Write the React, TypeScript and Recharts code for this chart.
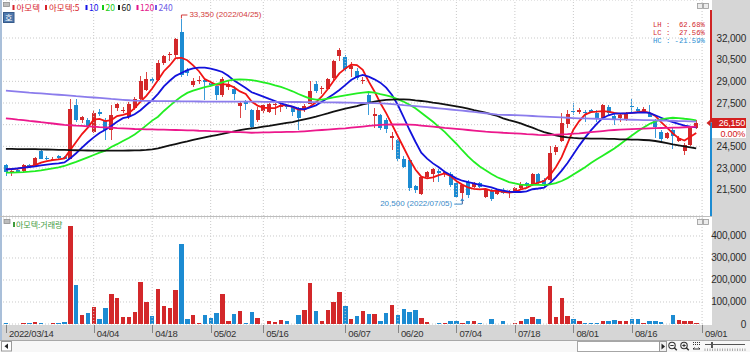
import React from 'react';
import {
  ComposedChart,
  Bar,
  Line,
  XAxis,
  YAxis,
  CartesianGrid,
  ReferenceLine,
  ReferenceDot,
} from 'recharts';

// ---------- categories ----------
const dates: string[] = [
  '03/14', '03/15', '03/16', '03/17', '03/18', '03/21', '03/22', '03/23', '03/24', '03/25',
  '03/28', '03/29', '03/30', '03/31', '04/01', '04/04', '04/05', '04/06', '04/07', '04/08',
  '04/11', '04/12', '04/13', '04/14', '04/15', '04/18', '04/19', '04/20', '04/21', '04/22',
  '04/25', '04/26', '04/27', '04/28', '04/29', '05/02', '05/03', '05/04', '05/06', '05/09',
  '05/10', '05/11', '05/12', '05/13', '05/16', '05/17', '05/18', '05/19', '05/20', '05/23',
  '05/24', '05/25', '05/26', '05/27', '05/30', '05/31', '06/02', '06/03', '06/07', '06/08',
  '06/09', '06/10', '06/13', '06/14', '06/15', '06/16', '06/17', '06/20', '06/21', '06/22',
  '06/23', '06/24', '06/27', '06/28', '06/29', '06/30', '07/01', '07/04', '07/05', '07/06',
  '07/07', '07/08', '07/11', '07/12', '07/13', '07/14', '07/15', '07/18', '07/19', '07/20',
  '07/21', '07/22', '07/25', '07/26', '07/27', '07/28', '07/29', '08/01', '08/02', '08/03',
  '08/04', '08/05', '08/08', '08/09', '08/10', '08/11', '08/12', '08/16', '08/17', '08/18',
  '08/19', '08/22', '08/23', '08/24', '08/25', '08/26', '08/29', '08/30', '08/31', '09/01',
];

// ---------- price series ----------
const opens = [
  23200, 22750, 22850, 22800, 23200, 23100, 24150, 23700, 23600, 23800,
  23750, 23650, 27350, 26300, 26300, 25500, 26900, 26300, 25600, 27150,
  27000, 26500, 27150, 27800, 28400, 29150, 29100, 30300, 30800, 30850,
  32450, 29800, 28750, 29000, 29100, 28900, 28650, 28050, 28600, 28500,
  27300, 27600, 27000, 26300, 26950, 26900, 27350, 27250, 27350, 27200,
  27150, 27000, 27450, 28850, 28450, 28450, 29200, 30750, 30700, 29850,
  29750, 29000, 28050, 26600, 26650, 26350, 25100, 24950, 23650, 23550,
  21750, 21200, 22400, 22600, 22800, 22600, 22600, 21950, 21250, 22050,
  21700, 21950, 21000, 21500, 21200, 21500, 21300, 21350, 21600, 21950,
  21800, 22600, 22150, 22150, 24100, 24850, 26050, 26950, 26850, 26900,
  27000, 26800, 26450, 27200, 26600, 26450, 26300, 27300, 27100, 26950,
  26800, 26350, 25500, 25100, 25650, 24900, 24200, 24600, 25800,
];
const highs = [
  23300, 22900, 22950, 23300, 23300, 23750, 24300, 23800, 23750, 23900,
  23850, 27800, 27800, 26600, 26450, 27000, 27100, 26450, 27350, 27500,
  27250, 27600, 27900, 29400, 29650, 29300, 30500, 30800, 31000, 32000,
  33350, 29950, 29200, 29400, 29200, 29000, 28700, 29300, 29000, 28700,
  27600, 27700, 27100, 27200, 27400, 27500, 27500, 27500, 27450, 27300,
  27200, 27400, 29000, 29000, 28700, 29200, 30500, 31300, 30800, 30350,
  29900, 29300, 28300, 27150, 26750, 26450, 25500, 25000, 23800, 23600,
  21800, 22450, 22800, 23000, 22900, 22800, 22750, 22050, 21900, 22150,
  22000, 22050, 21600, 21550, 21550, 21600, 21450, 21700, 22000, 22050,
  22650, 22650, 22300, 24500, 24600, 26800, 27000, 27500, 27150, 27050,
  27100, 27000, 27400, 27350, 26800, 26800, 26900, 27800, 27200, 27200,
  27350, 26400, 25600, 25500, 25750, 25200, 24700, 25800, 26300,
];
const lows = [
  22450, 22450, 22700, 22750, 23050, 23050, 23600, 23550, 23500, 23650,
  23600, 23600, 26200, 26150, 25700, 25400, 26600, 24950, 24950, 26950,
  26800, 26400, 27000, 27700, 28300, 28900, 29000, 30100, 30400, 30700,
  29300, 29400, 28600, 28800, 27700, 28600, 27700, 27950, 28400, 27700,
  26450, 27000, 25700, 26200, 26800, 26800, 26700, 26900, 27100, 26600,
  25650, 26900, 27400, 28200, 28150, 28400, 29100, 30400, 29700, 29300,
  29100, 28800, 26650, 25750, 25600, 25400, 24250, 23500, 23000, 21400,
  21300, 21150, 22300, 22000, 22000, 22400, 21700, 20900, 20500, 20950,
  21600, 21600, 20900, 20750, 21100, 21200, 20950, 21250, 21550, 21700,
  21750, 21850, 21700, 22100, 23900, 24800, 25800, 26650, 26750, 26200,
  26800, 26200, 26300, 26650, 26000, 26200, 26250, 26800, 26800, 26850,
  26500, 25050, 24900, 25000, 24350, 24800, 23900, 24500, 25700,
];
const closes = [
  22750, 22800, 22750, 23200, 23100, 23700, 23650, 23600, 23650, 23700,
  23650, 27100, 26300, 26500, 25850, 26800, 26750, 25650, 26650, 27400,
  27050, 27400, 27750, 29000, 29150, 29050, 30300, 30750, 30900, 31900,
  29450, 29600, 29050, 29100, 28950, 28750, 28050, 29150, 28800, 28150,
  27500, 27450, 25850, 27050, 27350, 27450, 27400, 27350, 27200, 26900,
  26450, 27300, 28350, 28300, 28550, 29150, 30400, 31150, 29850, 30050,
  29200, 29100, 27600, 26750, 25750, 25700, 25200, 23650, 23100, 21600,
  21450, 22400, 22700, 22900, 22650, 22700, 21850, 21000, 21800, 21150,
  21900, 21700, 21450, 20850, 21450, 21300, 21350, 21650, 21900, 21800,
  22600, 21950, 21900, 24050, 24450, 26100, 26750, 26850, 27050, 26800,
  26900, 26450, 27350, 26800, 26350, 26650, 26800, 27200, 26950, 27100,
  26550, 25850, 25000, 25400, 25250, 25050, 24600, 25750, 26150,
];
const volumes = [
  6000, 2000, 2000, 3000, 3000, 8000, 3000, 2000, 3000, 6000,
  8000, 445000, 177000, 42000, 52000, 77000, 21000, 71000, 138000, 117000,
  30000, 30000, 55000, 191000, 101000, 36000, 159000, 80000, 71000, 153000,
  365000, 24000, 42000, 6000, 42000, 27000, 52000, 135000, 15000, 45000,
  59000, 3000, 55000, 27000, 2000, 14000, 9000, 18000, 14000, 2000,
  42000, 64000, 186000, 59000, 14000, 64000, 101000, 145000, 82000, 21000,
  36000, 59000, 45000, 45000, 14000, 50000, 86000, 42000, 67000, 56000,
  64000, 27000, 9000, 2000, 6000, 6000, 15000, 15000, 3000, 12000,
  12000, 6000, 2000, 21000, 2000, 15000, 2000, 3000, 15000, 21000,
  33000, 21000, 2000, 174000, 33000, 120000, 36000, 24000, 12000, 6000,
  3000, 3000, 15000, 15000, 18000, 12000, 12000, 21000, 24000, 6000,
  12000, 12000, 9000, 2000, 39000, 18000, 15000, 15000, 6000,
];

// ---------- moving averages ----------
const ma5 = [
  22900, 22930, 22950, 23020, 23090, 23200, 23370, 23480, 23550, 23600,
  23670, 24250, 24800, 25350, 25800, 26350, 26400, 26250, 26320, 26600,
  26680, 26800, 27150, 27600, 28000, 28500, 29100, 29700, 30100, 30600,
  30630, 30460, 30100, 29700, 29150, 28950, 28750, 28800, 28770, 28580,
  28300, 28120, 27600, 27320, 27180, 27150, 27150, 27330, 27330, 27230,
  27040, 27050, 27260, 27550, 27950, 28450, 29020, 29550, 29880, 30150,
  30130, 29800, 29000, 28300, 27500, 26800, 26000, 25200, 24400, 23600,
  22900, 22400, 22280, 22350, 22500, 22620, 22450, 22100, 21850, 21650,
  21560, 21520, 21550, 21410, 21420, 21340, 21290, 21340, 21520, 21630,
  21840, 21990, 22100, 22500, 23050, 23750, 24700, 25650, 26250, 26700,
  26870, 26900, 26940, 26900, 26820, 26750, 26780, 26820, 26870, 26920,
  26820, 26600, 26170, 25800, 25400, 25060, 24900, 25160, 25430,
];
const ma10 = [
  22900, 22930, 22980, 23020, 23070, 23110, 23180, 23230, 23280, 23320,
  23390, 23670, 24020, 24410, 24780, 25120, 25420, 25650, 25910, 26200,
  26450, 26540, 26720, 27000, 27360, 27700, 28130, 28650, 29040, 29380,
  29580, 29780, 29900, 29950, 29950, 29880, 29780, 29650, 29380, 29050,
  28800, 28540, 28240, 28100, 27940, 27780, 27640, 27480, 27360, 27250,
  27110, 27060, 27200, 27340, 27590, 27840, 28100, 28400, 28740, 29090,
  29320, 29440, 29320, 29140, 28910, 28560, 28050, 27360, 26510, 25630,
  24820, 24060, 23650, 23320, 23050, 22740, 22510, 22280, 22120, 22030,
  21940, 21840, 21750, 21660, 21520, 21430, 21360, 21340, 21340, 21380,
  21530, 21580, 21640, 21950, 22350, 22820, 23350, 23950, 24550, 25100,
  25600, 26050, 26450, 26650, 26760, 26780, 26780, 26810, 26830, 26850,
  26810, 26650, 26480, 26320, 26180, 26050, 25930, 25860, 25810,
];
const ma20 = [
  22680, 22680, 22700, 22720, 22750, 22790, 22840, 22910, 22980, 23040,
  23140, 23280, 23420, 23580, 23740, 23900, 24060, 24200, 24450, 24650,
  24870, 25080, 25320, 25620, 25950, 26280, 26550, 26950, 27300, 27650,
  27950, 28200, 28350, 28480, 28600, 28680, 28810, 28930, 29050, 29120,
  29140, 29120, 29090, 29020, 28930, 28840, 28720, 28610, 28470, 28310,
  28120, 27960, 27800, 27730, 27730, 27800, 27890, 27960, 28030, 28100,
  28170, 28220, 28260, 28220, 28120, 28030, 27920, 27750, 27590, 27380,
  27130, 26830, 26510, 26200, 25850, 25500, 25080, 24680, 24230, 23800,
  23430, 23100, 22840, 22590, 22360, 22200, 22020, 21930, 21850, 21820,
  21830, 21830, 21820, 21870, 21950, 22100, 22300, 22550, 22800, 23050,
  23350, 23600, 23850, 24100, 24350, 24650, 24950, 25250, 25550, 25800,
  26050, 26230, 26370, 26440, 26480, 26460, 26410, 26370, 26300,
];
const ma60 = [
  24320, 24320, 24310, 24310, 24300, 24300, 24290, 24280, 24270, 24260,
  24250, 24240, 24230, 24220, 24210, 24200, 24200, 24200, 24200, 24200,
  24200, 24210, 24220, 24230, 24250, 24290, 24360, 24470, 24570, 24660,
  24750, 24840, 24940, 25030, 25120, 25200, 25280, 25360, 25450, 25540,
  25620, 25690, 25750, 25790, 25860, 25910, 25980, 26050, 26120, 26180,
  26280, 26370, 26460, 26550, 26670, 26780, 26900, 27010, 27110, 27200,
  27290, 27410, 27500, 27590, 27660, 27710, 27730, 27750, 27750, 27730,
  27680, 27640, 27590, 27520, 27480, 27410, 27340, 27270, 27200, 27110,
  27010, 26920, 26830, 26710, 26600, 26440, 26320, 26210, 26090, 25930,
  25790, 25630, 25490, 25380, 25260, 25170, 25120, 25080, 25050, 25050,
  25030, 25030, 25030, 25010, 25010, 24980, 24980, 24960, 24960, 24940,
  24920, 24870, 24800, 24730, 24640, 24570, 24500, 24430, 24360,
];
const ma120 = [
  26440, 26400, 26350, 26310, 26260, 26220, 26170, 26130, 26080, 26030,
  25980, 25960, 25930, 25910, 25880, 25860, 25830, 25810, 25790, 25760,
  25740, 25720, 25700, 25690, 25680, 25670, 25660, 25650, 25640, 25630,
  25620, 25610, 25600, 25580, 25570, 25550, 25540, 25520, 25510, 25490,
  25480, 25460, 25440, 25450, 25460, 25470, 25480, 25490, 25500, 25505,
  25515, 25540, 25570, 25600, 25630, 25660, 25690, 25720, 25750, 25790,
  25830, 25870, 25910, 25950, 25980, 26000, 26010, 26020, 26010, 26000,
  25980, 25940, 25900, 25860, 25820, 25780, 25750, 25710, 25670, 25630,
  25590, 25550, 25515, 25490, 25470, 25440, 25420, 25400, 25380, 25350,
  25330, 25300, 25280, 25290, 25310, 25330, 25350, 25380, 25400, 25440,
  25480, 25520, 25560, 25600, 25630, 25650, 25670, 25690, 25710, 25730,
  25750, 25760, 25770, 25780, 25790, 25800, 25820, 25840, 25860,
];
const ma240 = [
  28350, 28320, 28290, 28260, 28220, 28190, 28160, 28130, 28100, 28070,
  28040, 28010, 27970, 27940, 27910, 27880, 27850, 27820, 27780, 27750,
  27720, 27690, 27660, 27650, 27645, 27640, 27635, 27630, 27625, 27620,
  27615, 27610, 27610, 27605, 27600, 27600, 27600, 27595, 27595, 27590,
  27590, 27590, 27590, 27590, 27585, 27585, 27580, 27580, 27575, 27570,
  27570, 27565, 27560, 27555, 27550, 27545, 27540, 27535, 27530, 27520,
  27510, 27500, 27495, 27490, 27480, 27450, 27420, 27390, 27350, 27320,
  27290, 27250, 27210, 27170, 27130, 27090, 27050, 27010, 26970, 26930,
  26880, 26840, 26790, 26740, 26690, 26680, 26670, 26660, 26640, 26620,
  26600, 26580, 26560, 26540, 26520, 26500, 26480, 26460, 26440, 26430,
  26420, 26410, 26390, 26380, 26370, 26360, 26350, 26340, 26330, 26320,
  26310, 26300, 26290, 26280, 26270, 26250, 26240, 26230, 26210,
];

// ---------- ticks / labels ----------
const priceTicks = [21500, 23000, 24500, 26000, 27500, 29000, 30500, 32000];
const volumeTicks = [0, 100000, 200000, 300000, 400000];
const labelDates = ['03/14', '04/04', '04/18', '05/02', '05/16', '06/07', '06/20', '07/04', '07/18', '08/01', '08/16', '09/01'];
const labelTexts = ['2022/03/14', '04/04', '04/18', '05/02', '05/16', '06/07', '06/20', '07/04', '07/18', '08/01', '08/16', '09/01'];
const gridDates = labelDates.slice(1);
const highMark = { date: '04/25', value: 33350, text: '33,350 (2022/04/25)' };
const lowMark = { date: '07/05', value: 20500, text: '20,500 (2022/07/05)' };
const ratioTexts = ['LH :  62.68%', 'LC :  27.56%', 'HC : -21.59%'];
const changeText = '0.00%';

const legendItems = [
  { label: '아모텍', color: '#d8232b', mx: 12.5, tx: 16.5 },
  { label: '아모텍:5', color: '#d8232b', mx: 45, tx: 49 },
  { label: '10', color: '#1515e8', mx: 85.5, tx: 89 },
  { label: '20', color: '#16cc16', mx: 102, tx: 105.5 },
  { label: '60', color: '#111111', mx: 118, tx: 121.5 },
  { label: '120', color: '#e3168b', mx: 136.5, tx: 140 },
  { label: '240', color: '#6d5ce6', mx: 155, tx: 158.5 },
];

const maSeries = [
  { key: 'ma5', color: '#f01414' },
  { key: 'ma10', color: '#1212dc' },
  { key: 'ma20', color: '#22ee22' },
  { key: 'ma60', color: '#111111' },
  { key: 'ma120', color: '#ec188c' },
  { key: 'ma240', color: '#8b7cec' },
];

const RED = '#d3282a';
const BLUE = '#1c8bd2';
const RED_WICK = '#dc4545';
const BLUE_WICK = '#3c9bda';
const GRID = '#c9c9c9';
const PANEL = '#d6d6d6';
const NUM_FONT = '"Liberation Sans", Arial, sans-serif';
const MONO_FONT = '"Liberation Mono", "DejaVu Sans Mono", monospace';
const KR_FONT = '"Noto Sans CJK KR", "Noto Sans", sans-serif';

const data = dates.map((date, i) => ({
  date,
  open: i < opens.length ? opens[i] : null,
  high: i < highs.length ? highs[i] : null,
  low: i < lows.length ? lows[i] : null,
  close: i < closes.length ? closes[i] : null,
  volume: i < volumes.length ? volumes[i] : null,
  ma5: i < ma5.length ? ma5[i] : null,
  ma10: i < ma10.length ? ma10[i] : null,
  ma20: i < ma20.length ? ma20[i] : null,
  ma60: i < ma60.length ? ma60[i] : null,
  ma120: i < ma120.length ? ma120[i] : null,
  ma240: i < ma240.length ? ma240[i] : null,
}));

const lastClose = closes[closes.length - 1];
const fmt = (v: number) => v.toLocaleString('en-US');
const candleRange = (d: any) => (d.open == null ? null : [d.low, d.high]);

function Candle(props: any) {
  const { x, y, width, height, payload } = props;
  if (!payload || payload.open == null || x == null || y == null) return <g />;
  const top = Math.min(y, y + height);
  const bottom = Math.max(y, y + height);
  const span = payload.high - payload.low;
  const k = span > 0 ? (bottom - top) / span : 0;
  const yO = top + (payload.high - payload.open) * k;
  const yC = top + (payload.high - payload.close) * k;
  const up = payload.close >= payload.open;
  const cx = x + width / 2;
  const bTop = Math.min(yO, yC);
  const bH = Math.max(1, Math.abs(yC - yO));
  return (
    <g>
      <line x1={cx} x2={cx} y1={top} y2={bottom} stroke={up ? RED_WICK : BLUE_WICK} strokeWidth={1} shapeRendering="crispEdges" />
      <rect x={cx - 2} y={bTop} width={4} height={bH} fill={up ? RED : BLUE} shapeRendering="crispEdges" />
    </g>
  );
}

function VolBar(props: any) {
  const { x, y, width, height, payload } = props;
  if (!payload || payload.volume == null || x == null || y == null) return <g />;
  const up = payload.close >= payload.open;
  const cx = x + width / 2;
  const top = Math.min(y, y + height);
  const h = Math.max(Math.abs(height), 0.8);
  return <rect x={cx - 2.2} y={top} width={4.4} height={h} fill={up ? RED : BLUE} shapeRendering="crispEdges" />;
}

function PriceTick(props: any) {
  const { y, payload } = props;
  if (!payload || payload.value === 26000) return <g />;
  return (
    <text x={746} y={y + 3.5} textAnchor="end" fontSize={10} fontFamily={NUM_FONT} fill="#2b2b2b" letterSpacing={-0.2}>
      {fmt(payload.value)}
    </text>
  );
}

function VolTick(props: any) {
  const { y, payload } = props;
  if (!payload) return <g />;
  return (
    <text x={746} y={y + 3.5} textAnchor="end" fontSize={10} fontFamily={NUM_FONT} fill="#2b2b2b" letterSpacing={-0.2}>
      {fmt(payload.value)}
    </text>
  );
}

function DateTick(props: any) {
  const { x, y, payload } = props;
  if (!payload) return <g />;
  const idx = labelDates.indexOf(payload.value);
  if (idx < 0) return <g />;
  const lx = Math.round(x) + 0.5;
  return (
    <g>
      <line x1={lx} x2={lx} y1={y + 1} y2={y + 9} stroke="#858585" strokeWidth={1} />
      <text x={x + 3} y={y + 12.8} fontSize={9.5} fontFamily={NUM_FONT} fill="#333" letterSpacing={-0.3}>
        {labelTexts[idx]}
      </text>
    </g>
  );
}

function HighMark(props: any) {
  const { cx, cy } = props;
  if (cx == null || cy == null) return <g />;
  return (
    <g>
      <path d={`M${cx},${cy} V${cy - 3.5} H${cx + 6}`} stroke="#d23a3a" fill="none" strokeWidth={1} />
      <text x={cx + 8} y={cy - 1.2} fontSize={8} fontFamily={NUM_FONT} fill="#d23a3a">{highMark.text}</text>
    </g>
  );
}

function LowMark(props: any) {
  const { cx, cy } = props;
  if (cx == null || cy == null) return <g />;
  return (
    <g>
      <path d={`M${cx},${cy - 5} V${cy} H${cx - 8}`} stroke="#3a8ac8" fill="none" strokeWidth={1} />
      <path d={`M${cx - 2},${cy - 3} L${cx},${cy - 6} L${cx + 2},${cy - 3} Z`} fill="#3a8ac8" />
      <text x={cx - 10} y={cy + 1.5} textAnchor="end" fontSize={8} fontFamily={NUM_FONT} fill="#3a8ac8">{lowMark.text}</text>
    </g>
  );
}

function PriceTag(props: any) {
  const vb = props.viewBox || {};
  const y = vb.y;
  if (y == null) return <g />;
  return (
    <g>
      <line x1={711} x2={711} y1={10} y2={y} stroke="#cf2424" strokeWidth={2} />
      <line x1={711} x2={711} y1={y} y2={216} stroke="#1c8bd2" strokeWidth={2} />
      <path d={`M706.5,${y + 0.5} L710.5,${y - 3} L710.5,${y + 4} Z`} fill="#cf2424" />
      <rect x={712} y={y - 4.5} width={34} height={10} fill="#d42020" />
      <text x={745} y={y + 3.6} textAnchor="end" fontSize={9} fontFamily={NUM_FONT} fill="#ffffff" letterSpacing={-0.2}>
        {fmt(lastClose)}
      </text>
      <rect x={712} y={y + 5.5} width={34} height={10} fill="#ffffff" />
      <text x={745} y={y + 14} textAnchor="end" fontSize={9} fontFamily={NUM_FONT} fill="#d42020" letterSpacing={-0.2}>
        {changeText}
      </text>
    </g>
  );
}

function Overlay() {
  const slTicks: number[] = [];
  for (let t = 705; t <= 745; t += 2.5) slTicks.push(t);
  return (
    <svg width={750} height={352} style={{ position: 'absolute', left: 0, top: 0, pointerEvents: 'none' }}>
      {/* left frame */}
      <rect x={0} y={0} width={2} height={340} fill="#a9bfd9" />
      {/* top-left icon */}
      <rect x={3.5} y={2.5} width={6} height={4} fill="#bdbdbd" stroke="#8e8e8e" strokeWidth={0.8} />
      {/* legend */}
      {legendItems.map((it) => (
        <g key={it.label}>
          <rect x={it.mx} y={5} width={2} height={5} fill={it.color} />
          <text x={it.tx} y={11.3} fontSize={8.5} fontFamily={KR_FONT} fill={it.color}>{it.label}</text>
        </g>
      ))}
      {/* 호 button */}
      <rect x={3.5} y={12.5} width={10.5} height={10} fill="#4f79ad" stroke="#365a8a" strokeWidth={1} />
      <text x={8.75} y={20.6} textAnchor="middle" fontSize={8} fontFamily={KR_FONT} fill="#ffffff">호</text>
      {/* ratio box */}
      {ratioTexts.map((t, i) => (
        <text key={t} x={653} y={26.5 + i * 8} fontSize={7.2} fontFamily={MONO_FONT} fill={i < 2 ? '#d2282e' : '#2a8fd4'} style={{ whiteSpace: 'pre' }}>
          {t}
        </text>
      ))}
      {/* panel buttons */}
      {[3.5, 219.5].map((yy) => (
        <g key={yy}>
          <rect x={697.5} y={yy} width={5} height={5} fill="#ececec" stroke="#9a9a9a" strokeWidth={0.8} />
          <rect x={703.5} y={yy} width={5} height={5} fill="#ececec" stroke="#9a9a9a" strokeWidth={0.8} />
        </g>
      ))}
      {/* panel separator */}
      <line x1={0} x2={712} y1={216.5} y2={216.5} stroke="#bdbdbd" strokeWidth={1} />
      {/* volume legend */}
      <rect x={4} y={219.5} width={6} height={4} fill="#bdbdbd" stroke="#8e8e8e" strokeWidth={0.8} />
      <rect x={13} y={222} width={2} height={5} fill="#3d9a3d" />
      <text x={16} y={228} fontSize={8} fontFamily={KR_FONT} fill="#3d9a3d">아모텍:거래량</text>
      {/* bottom strip */}
      <rect x={0} y={340} width={750} height={12} fill="#f7f7f7" />
      <line x1={0} x2={750} y1={340.5} y2={340.5} stroke="#a8a8a8" />
      <rect x={1.5} y={341.5} width={10} height={9.5} fill="#ffffff" stroke="#9a9a9a" />
      <path d="M8,343.5 L4.5,346.25 L8,349 Z" fill="#222" />
      <rect x={577.5} y={341.5} width={82} height={10} fill="#ffffff" stroke="#a6a6a6" />
      <rect x={659.5} y={341.5} width={7} height={10} fill="#f0f0f0" stroke="#999" />
      <path d="M661.5,343.5 L665,346.5 L661.5,349.5 Z" fill="#222" />
      <circle cx={672} cy={345.5} r={3.2} fill="none" stroke="#333" strokeWidth={1.1} />
      <line x1={674.3} y1={347.8} x2={676.8} y2={350.3} stroke="#333" strokeWidth={1.5} />
      <line x1={670.3} y1={345.5} x2={673.7} y2={345.5} stroke="#333" />
      <circle cx={684} cy={345.5} r={3.2} fill="none" stroke="#333" strokeWidth={1.1} />
      <line x1={686.3} y1={347.8} x2={688.8} y2={350.3} stroke="#333" strokeWidth={1.5} />
      <line x1={682.3} y1={345.5} x2={685.7} y2={345.5} stroke="#333" />
      <line x1={684} y1={343.8} x2={684} y2={347.2} stroke="#333" />
      {[693.5, 695.5, 697.5, 699.5].map((xx) => (
        <line key={xx} x1={xx} x2={xx} y1={342} y2={346} stroke="#333" strokeDasharray="1 1" />
      ))}
      <path d="M693,349 H700 M693,349 l1.5,-1.5 M700,349 l-1.5,-1.5" stroke="#333" fill="none" />
      <line x1={705} x2={745} y1={344.5} y2={344.5} stroke="#555" />
      <rect x={711} y={342} width={2} height={6} fill="#555" />
      {slTicks.map((t) => (
        <line key={t} x1={t} x2={t} y1={348.5} y2={351} stroke="#777" strokeWidth={0.6} />
      ))}
    </svg>
  );
}

export default function App() {
  return (
    <div style={{ position: 'absolute', left: 0, top: 0, width: 750, height: 352, overflow: 'hidden', background: '#ffffff' }}>
      <div style={{ position: 'absolute', left: 712, top: 0, width: 38, height: 340, background: PANEL }} />
      <div style={{ position: 'absolute', left: 0, top: 325, width: 712, height: 15, background: PANEL }} />

      <div style={{ position: 'absolute', left: 0, top: 0 }}>
        <ComposedChart width={750} height={216} data={data} margin={{ top: 0, right: 0, bottom: 0, left: 3 }} barCategoryGap={0} barGap={0}>
          <CartesianGrid vertical={false} stroke={GRID} strokeDasharray="1 2" />
          {gridDates.map((d) => (
            <ReferenceLine key={d} x={d} stroke={GRID} strokeDasharray="1 2" />
          ))}
          <XAxis dataKey="date" hide />
          <YAxis
            orientation="right"
            width={45}
            domain={[19677, 34631]}
            ticks={priceTicks}
            interval={0}
            allowDataOverflow
            axisLine={false}
            tickLine={false}
            tick={<PriceTick />}
          />
          <Bar dataKey={candleRange} shape={<Candle />} isAnimationActive={false} />
          {maSeries.map((s) => (
            <Line
              key={s.key}
              type="linear"
              dataKey={s.key}
              stroke={s.color}
              strokeWidth={1.8}
              dot={false}
              activeDot={false}
              isAnimationActive={false}
            />
          ))}
          <ReferenceDot x={highMark.date} y={highMark.value} r={1} shape={<HighMark />} />
          <ReferenceDot x={lowMark.date} y={lowMark.value} r={1} shape={<LowMark />} />
          <ReferenceLine y={lastClose} stroke="none" label={<PriceTag />} />
        </ComposedChart>
      </div>

      <div style={{ position: 'absolute', left: 0, top: 216 }}>
        <ComposedChart width={750} height={124} data={data} margin={{ top: 2, right: 0, bottom: 0, left: 3 }} barCategoryGap={0} barGap={0}>
          <CartesianGrid vertical={false} stroke={GRID} strokeDasharray="1 2" />
          {gridDates.map((d) => (
            <ReferenceLine key={d} x={d} stroke={GRID} strokeDasharray="1 2" />
          ))}
          <XAxis
            dataKey="date"
            interval={0}
            height={16}
            tickSize={0}
            tickMargin={0}
            axisLine={false}
            tickLine={false}
            tick={<DateTick />}
          />
          <YAxis
            orientation="right"
            width={45}
            domain={[0, 481800]}
            ticks={volumeTicks}
            interval={0}
            allowDataOverflow
            axisLine={false}
            tickLine={false}
            tick={<VolTick />}
          />
          <Bar dataKey="volume" shape={<VolBar />} isAnimationActive={false} />
        </ComposedChart>
      </div>

      <Overlay />
    </div>
  );
}
